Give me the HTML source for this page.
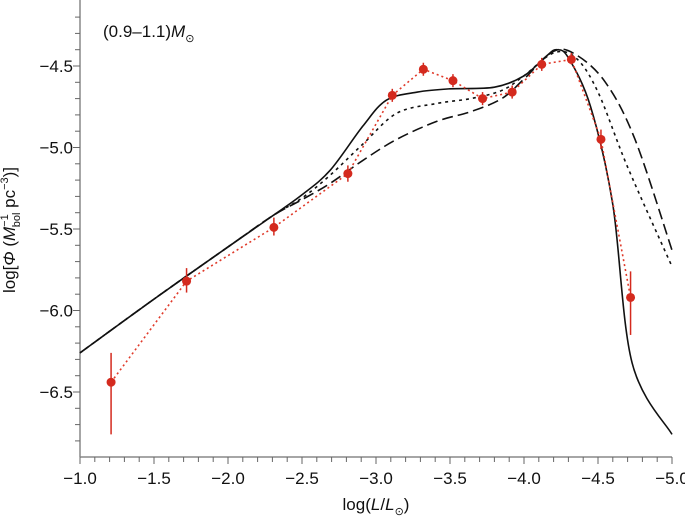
<!DOCTYPE html>
<html><head><meta charset="utf-8"><style>
body{margin:0;background:#fff;}
svg{display:block;font-family:"Liberation Sans",Arial,sans-serif;}
</style></head><body>
<svg id="chart" width="685" height="519" viewBox="0 0 685 519" xmlns="http://www.w3.org/2000/svg"></svg>
<script>
const xTicks=[-1.0,-1.5,-2.0,-2.5,-3.0,-3.5,-4.0,-4.5,-5.0];
const xTickLabels=["−1.0","−1.5","−2.0","−2.5","−3.0","−3.5","−4.0","−4.5","−5.0"];
const yTicks=[-4.5,-5.0,-5.5,-6.0,-6.5];
const yTickLabels=["−4.5","−5.0","−5.5","−6.0","−6.5"];
const obsX=[-1.21,-1.72,-2.31,-2.81,-3.11,-3.32,-3.52,-3.72,-3.92,-4.12,-4.32,-4.52,-4.72];
const obsY=[-6.44,-5.82,-5.49,-5.16,-4.68,-4.52,-4.59,-4.70,-4.66,-4.49,-4.46,-4.95,-5.92];
const obsLo=[-6.76,-5.89,-5.54,-5.21,-4.72,-4.56,-4.63,-4.74,-4.70,-4.53,-4.49,-5.01,-6.15];
const obsHi=[-6.26,-5.74,-5.43,-5.11,-4.64,-4.48,-4.55,-4.66,-4.62,-4.45,-4.42,-4.89,-5.76];
const solidX=[-1.0,-1.5,-2.0,-2.3,-2.5,-2.69,-2.91,-3.07,-3.28,-3.5,-3.8,-4.0,-4.15,-4.22,-4.3,-4.45,-4.6,-4.73,-5.0];
const solidY=[-6.26,-5.93,-5.61,-5.42,-5.29,-5.14,-4.87,-4.71,-4.66,-4.64,-4.63,-4.56,-4.44,-4.40,-4.45,-4.75,-5.35,-6.32,-6.76];
const dotX=[-1.0,-1.5,-2.0,-2.3,-2.5,-2.69,-2.91,-3.14,-3.41,-3.64,-3.85,-4.0,-4.2,-4.35,-4.5,-4.7,-5.0];
const dotY=[-6.26,-5.93,-5.61,-5.42,-5.31,-5.17,-4.98,-4.79,-4.73,-4.70,-4.65,-4.56,-4.42,-4.45,-4.66,-5.12,-5.73];
const dashX=[-1.0,-1.5,-2.0,-2.3,-2.5,-2.69,-2.91,-3.14,-3.41,-3.64,-3.85,-4.0,-4.2,-4.35,-4.55,-4.75,-5.0];
const dashY=[-6.26,-5.93,-5.61,-5.42,-5.32,-5.22,-5.08,-4.95,-4.84,-4.78,-4.70,-4.58,-4.41,-4.43,-4.6,-4.95,-5.63];

const NS="http://www.w3.org/2000/svg";
const svg=document.getElementById('chart');
const X0=80,X1=672,Y0=0,Y1=457;
const sx=v=>X0+(v-(-1))/(-5-(-1))*(X1-X0);
const sy=v=>66+(v-(-4.5))/(-6.5-(-4.5))*(392-66);
function el(t,a,p){const e=document.createElementNS(NS,t);for(const k in a)e.setAttribute(k,a[k]);(p||svg).appendChild(e);return e;}
function smooth(xs,ys){const P=xs.map((x,i)=>[sx(x),sy(ys[i])]);let d=`M${P[0][0]},${P[0][1]}`;
for(let i=0;i<P.length-1;i++){const p0=P[Math.max(0,i-1)],p1=P[i],p2=P[i+1],p3=P[Math.min(P.length-1,i+2)];
d+=` C${p1[0]+(p2[0]-p0[0])/6},${p1[1]+(p2[1]-p0[1])/6} ${p2[0]-(p3[0]-p1[0])/6},${p2[1]-(p3[1]-p1[1])/6} ${p2[0]},${p2[1]}`;}return d;}

let a=el('line',{x1:X0,y1:Y0,x2:X0,y2:Y1,stroke:'#888','stroke-width':1.5});


a=el('line',{x1:X0,y1:Y1,x2:X1,y2:Y1,stroke:'#888','stroke-width':1.5});


for(let k=0;k<=40;k++){const v=-1.0-k*0.1;const major=k%5===0;
el('line',{x1:sx(v),y1:Y1,x2:sx(v),y2:Y1+(major?7:5),stroke:'#666','stroke-width':1});}
for(let k=-4;k<=30;k++){const v=-4.5-k*0.1;const y=sy(v);if(y<1||y>Y1-1)continue;const major=((k%5)+5)%5===0;
el('line',{x1:X0-(major?7:5),y1:y,x2:X0,y2:y,stroke:'#666','stroke-width':1});}
xTicks.forEach((v,i)=>{const t=el('text',{x:sx(v),y:Y1+27,'font-size':17,'text-anchor':'middle',fill:'#111'});t.textContent=xTickLabels[i];

});
yTicks.forEach((v,i)=>{const t=el('text',{x:X0-7,y:sy(v)+6,'font-size':17,'text-anchor':'end',fill:'#111'});t.textContent=yTickLabels[i];

});

let c=el('path',{d:smooth(dashX,dashY),fill:'none',stroke:'#111','stroke-width':1.6,'stroke-dasharray':'11,5'});


c=el('path',{d:smooth(dotX,dotY),fill:'none',stroke:'#111','stroke-width':1.6,'stroke-dasharray':'3,4'});


c=el('path',{d:smooth(solidX,solidY),fill:'none',stroke:'#111','stroke-width':1.6});



c=el('path',{d:'M'+obsX.map((x,i)=>sx(x)+','+sy(obsY[i])).join(' L'),fill:'none',stroke:'#e03a2a','stroke-width':1.6,'stroke-dasharray':'2,3'});


obsX.forEach((x,i)=>{
const e=el('line',{x1:sx(x),y1:sy(obsLo[i]),x2:sx(x),y2:sy(obsHi[i]),stroke:'#d42a1e','stroke-width':1.5});


const p=el('circle',{cx:sx(x),cy:sy(obsY[i]),r:4.5,fill:'#d42a1e'});


});

let t=el('text',{x:X0+(X1-X0)/2,y:510,'font-size':17,'text-anchor':'middle',fill:'#111'});
t.innerHTML='log(<tspan font-style="italic">L</tspan>/<tspan font-style="italic">L</tspan><tspan font-size="11" dy="5">⊙</tspan><tspan dy="-5">)</tspan>';


t=el('text',{x:0,y:0,'font-size':17,'text-anchor':'middle',fill:'#111',transform:'translate(15,230) rotate(-90)'});
t.innerHTML='log[<tspan font-style="italic">Φ</tspan> (<tspan font-style="italic">M</tspan><tspan font-size="11" dy="-7">−1</tspan><tspan font-size="11" dx="-13" dy="12">bol</tspan><tspan dy="-5"> pc</tspan><tspan font-size="11" dy="-7">−3</tspan><tspan dy="7">)]</tspan>';


t=el('text',{x:103,y:37,'font-size':17,fill:'#111'});
t.innerHTML='(0.9–1.1)<tspan font-style="italic">M</tspan><tspan font-size="11" dy="5">⊙</tspan>';


</script>
</body></html>
